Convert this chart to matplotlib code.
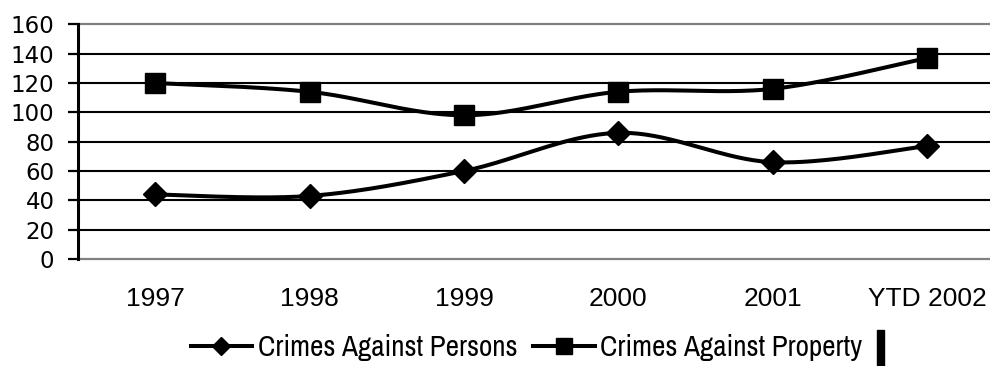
import numpy as np
import matplotlib
matplotlib.use('Agg')
import matplotlib.pyplot as plt
from matplotlib import font_manager
from matplotlib.font_manager import FontProperties
from matplotlib.lines import Line2D
from matplotlib.patches import Rectangle

years = ['1997', '1998', '1999', '2000', '2001', 'YTD 2002']
persons = [44, 43, 60, 86, 66, 77]
property_crimes = [120, 114, 98, 114, 116, 137]
y_ticks = [0, 20, 40, 60, 80, 100, 120, 140, 160]

plt.rcParams['font.family'] = ['DejaVu Sans']


def legend_face():
    # prefer a narrow/condensed sans face for the legend
    for f in font_manager.fontManager.ttflist:
        if f.style != 'normal' or f.weight not in (400, 'normal', 'regular'):
            continue
        if 'Narrow' in f.name or 'Condensed' in f.name:
            return FontProperties(fname=f.fname)
    for f in font_manager.fontManager.ttflist:
        if f.style == 'normal' and f.weight in (400, 'normal', 'regular') and \
                f.stretch in ('condensed', 'semi-condensed', 'extra-condensed'):
            return FontProperties(fname=f.fname)
    return FontProperties(family='Liberation Sans')


def smooth(xs, ys, n=40):
    # Catmull-Rom segments written as cubic Bezier (spreadsheet "smoothed line")
    pts = np.column_stack([xs, ys]).astype(float)
    padded = np.vstack([pts[0], pts, pts[-1]])
    t = np.linspace(0, 1, n)[:, None]
    out = []
    for i in range(len(pts) - 1):
        p0, p1, p2, p3 = padded[i], padded[i + 1], padded[i + 2], padded[i + 3]
        c1 = p1 + (p2 - p0) / 6
        c2 = p2 - (p3 - p1) / 6
        seg = (1 - t) ** 3 * p1 + 3 * (1 - t) ** 2 * t * c1 + 3 * (1 - t) * t ** 2 * c2 + t ** 3 * p2
        out.append(seg if i == 0 else seg[1:])
    return np.vstack(out)


fig = plt.figure(figsize=(9.9, 3.66), dpi=100)
ax = fig.add_axes([0.0788, 0.2923, 0.9357, 0.6413])

x = np.arange(len(years))
for values, marker, ms in [(persons, 'D', 12.2), (property_crimes, 's', 14.4)]:
    curve = smooth(x, values)
    ax.plot(curve[:, 0], curve[:, 1], color='black', lw=2.9, zorder=3, solid_capstyle='round')
    ax.plot(x, values, linestyle='none', marker=marker, ms=ms, color='black', zorder=4)

ax.set_xlim(-0.5, len(years) - 0.5)
ax.set_ylim(0, 160)
ax.set_yticks(y_ticks)
ax.set_xticks(x)
ax.set_xticklabels(years, family='Liberation Sans', fontsize=19)

# horizontal gridlines, black inside, grey at top and bottom
for v in y_ticks[1:-1]:
    ax.axhline(v, color='black', lw=1.5, zorder=1)
ax.spines['top'].set_color('#808080')
ax.spines['top'].set_linewidth(1.6)
ax.spines['bottom'].set_color('#808080')
ax.spines['bottom'].set_linewidth(1.6)
ax.spines['right'].set_visible(False)
ax.spines['left'].set_color('black')
ax.spines['left'].set_linewidth(2.2)
ax.spines['left'].set_zorder(5)

ax.tick_params(axis='y', length=7, width=1.6, color='black', pad=10, labelsize=16.5)
ax.tick_params(axis='x', length=0, pad=20)

# size the legend font so the first label is about 261 px wide
prop = legend_face()
prop.set_size(17)
renderer = fig.canvas.get_renderer()
probe = fig.text(0, 0, 'Crimes Against Persons', fontproperties=prop)
w = probe.get_window_extent(renderer).width
probe.remove()
prop.set_size(min(21, 17 * 261 / w))

handles = [
    Line2D([], [], color='black', lw=2.9, marker='D', ms=9.5, label='Crimes Against Persons'),
    Line2D([], [], color='black', lw=2.9, marker='s', ms=11, label='Crimes Against Property'),
]
fig.legend(handles=handles, loc='center', bbox_to_anchor=(0.532, 0.05), ncol=2,
           frameon=False, prop=prop, handlelength=2.1, handletextpad=0.2,
           columnspacing=0.55, borderaxespad=0)

fig.patches.append(Rectangle((877 / 990, 0), 7 / 990, 36 / 366,
                             transform=fig.transFigure, color='black'))

fig.savefig('out.png', dpi=100)
